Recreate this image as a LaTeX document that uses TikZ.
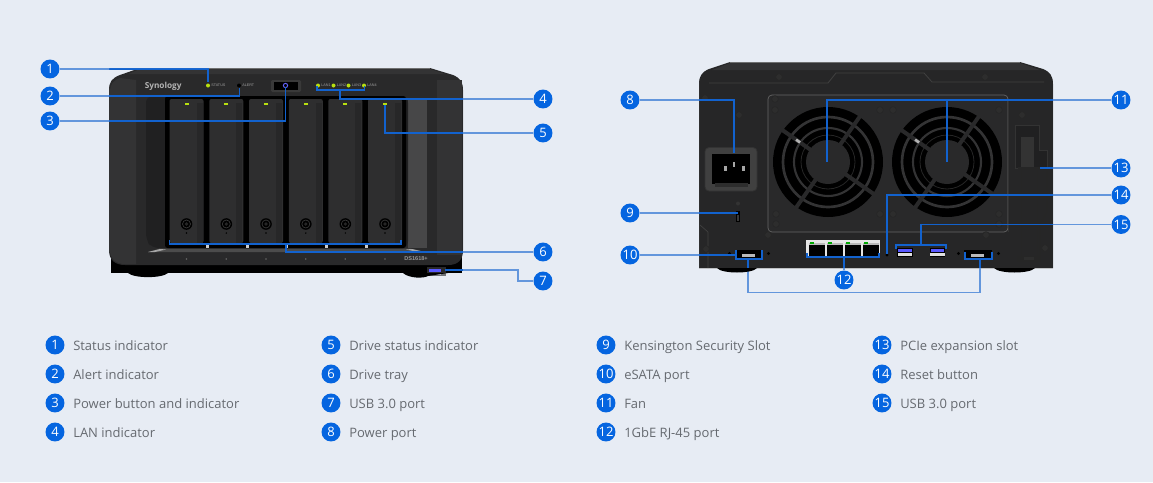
\documentclass[tikz,border=0pt]{standalone}
\usepackage{fontspec}
\setmainfont{Open Sans}
\newfontfamily\tinyfont{Liberation Sans}
\usetikzlibrary{calc}
\definecolor{pagebg}{HTML}{E7ECF4}
\definecolor{badge}{HTML}{0565E0}
\definecolor{wire}{HTML}{1262CE}
\definecolor{legendtext}{HTML}{666A70}
\definecolor{bodyA}{HTML}{29292A}
\definecolor{bodyB}{HTML}{333334}
\definecolor{bodyC}{HTML}{202021}
\definecolor{edgeA}{HTML}{6A6A6A}
\definecolor{trayc}{HTML}{2E2E2F}
\definecolor{trayd}{HTML}{272728}
\definecolor{led}{HTML}{B8E010}
\pgfdeclarelayer{device}
\pgfdeclarelayer{wires}
\pgfdeclarelayer{veil}
\pgfsetlayers{device,wires,veil,main}
\tikzset{
  x=0.75pt,y=-0.75pt,
  numdot/.style={circle,fill=badge,text=white,inner sep=0pt,minimum size=14.2pt,text height=7pt,text depth=0pt,font=\fontsize{9.75}{11}\selectfont},
  wireline/.style={draw=wire,line width=0.9pt,line join=miter},
  legendlabel/.style={anchor=base west,text=legendtext,inner sep=0pt,font=\fontsize{9.75}{11}\selectfont},
  tinylabel/.style={anchor=west,inner sep=0pt,text=gray!75,font=\tinyfont\fontsize{2.8}{3}\selectfont},
  greenled/.style={circle,fill=led,inner sep=0pt,minimum size=3pt},
  screwmark/.style={circle,draw=black!85,fill=gray!35!black,line width=0.5pt,inner sep=0pt,minimum size=5pt},
  blackdot/.style={circle,fill=black,inner sep=0pt,minimum size=2.6pt},
}
\begin{document}
\begin{tikzpicture}
\useasboundingbox (0,0) rectangle (1153,482);
\begin{pgfonlayer}{device}
\fill[pagebg] (0,0) rectangle (1153,482);

% ---------- FRONT UNIT ----------
\fill[black] (111,255) rectangle (462,273);
\fill[bodyA] (140,68) -- (430,68) -- (453,75) .. controls (460,78) and (463,82) .. (463,90)
  -- (463,250) .. controls (463,260) and (458,265) .. (448,265) -- (125,265)
  .. controls (115,265) and (109,260) .. (109,250) -- (109,90) .. controls (109,82) and (112,78) .. (120,75) -- cycle;
\draw[edgeA,line width=0.8pt] (140,68.5) -- (430,68.5);
\fill[bodyB] (140,69) -- (430,69) -- (445,74) -- (128,74) -- cycle;
\fill[bodyB] (110,92) .. controls (110,100) and (110,100) .. (110,250) .. controls (110,258) and (115,264) .. (125,264) -- (136,264) -- (136,80) -- (120,78) .. controls (114,80) and (110,84) .. (110,92) -- cycle;
\fill[bodyB!90!white] (408,98) rectangle (427,248);
\fill[bodyB] (437,80) rectangle (462,255);
% drive bay
\fill[bodyC,rounded corners=5pt] (146,96) -- (408,96) -- (408,248) -- (152,248) -- (146,240) -- cycle;
\fill[gray!60!black] (148,252) -- (160,248.5) -- (410,248.5) -- (425,252) -- cycle;
\fill[gray!70] (148,252) -- (160,249) -- (166,249.5) -- (155,252) -- cycle;
\fill[gray!70] (425,252) -- (412,249) -- (406,249.5) -- (418,252) -- cycle;
\fill[black,rounded corners=2pt] (165,96) rectangle (406,248);
\foreach \xx in {169.5,209.3,249,288.8,328.3,368}{
  \fill[trayc,rounded corners=1.5pt] (\xx,99) rectangle ++(34,144);
  \fill[trayd] ({\xx+27},103) rectangle ({\xx+33},243);
  \fill[black] ({\xx+17},224) circle (5.8);
  \draw[gray!45!black,line width=0.5pt] ({\xx+17},224) circle (4);
  \fill[gray!30!black] ({\xx+17},224) circle (1.8);
  \fill[black] ({\xx+17},233) circle (0.8);
  \fill[led] ({\xx+15},103) rectangle ({\xx+19},105);
  \fill[black!60] ({\xx+17},259) circle (0.9);
}
\foreach \xx in {205.8,245.5,285.3,325,364.6}{
  \fill[gray!40] (\xx,244) rectangle ++(3,4);
}
\node[inner sep=0pt,text=gray!80!white,font=\tinyfont\bfseries\fontsize{4.2}{5}\selectfont] (modelf) at (416,258.5) {DS1618+};
% top panel
\node[anchor=west,inner sep=0pt,text=gray!60!white,font=\bfseries\fontsize{6.2}{8}\selectfont] (logo) at (144.5,86) {Synology};
\node[greenled] (ledstatus) at (208,85.5) {};
\node[tinylabel] (tstatus) at (211,85.5) {STATUS};
\node[blackdot,minimum size=3pt] (ledalert) at (239,85.5) {};
\node[tinylabel] (talert) at (242,85.5) {ALERT};
\fill[gray!45!black,rounded corners=1pt] (271,80) rectangle (301,92);
\fill[black] (274,81.5) rectangle (298,90);
\node[circle,draw=blue!60!white,line width=0.7pt,inner sep=0pt,minimum size=3.2pt] (powerbtn) at (285.5,85.5) {};
\foreach \xx/\ll in {318/1,333.5/2,348.5/3,364/4}{
  \node[greenled] (lan\ll) at (\xx,85.5) {};
  \node[tinylabel] (tlan\ll) at (\xx+3,85.5) {LAN\ll};
}
% front USB
\fill[bodyA] (427,267) rectangle (446,276);
\fill[blue!65!white] (428.5,268.5) rectangle (441,271.5);
\fill[gray!55] (429,272.5) rectangle (441,274.5);

% ---------- REAR UNIT ----------
\fill[bodyA!92!black] (730,62) -- (1020,62) -- (1043,69) .. controls (1050,72) and (1053,76) .. (1053,84)
 -- (1053,268) -- (699,268) -- (699,84) .. controls (699,76) and (702,72) .. (709,69) -- cycle;
\draw[edgeA,line width=0.8pt] (730,62.5) -- (1020,62.5);
\fill[bodyB] (730,63) -- (1020,63) -- (1040,70) -- (712,70) -- cycle;
\draw[gray!70,line width=0.5pt] (699.3,268) -- (1052.7,268);
\draw[black!75,line width=0.6pt] (709,83) -- (828,83) -- (836,73) -- (924,73) -- (932,82) -- (1044,82);
\draw[black!75,line width=0.5pt] (700,225) -- (708,232) -- (708,268);
\draw[black!60,line width=0.5pt,rounded corners=3pt,fill=bodyA] (768,95) rectangle (1008,232);
% fans
\foreach \cx in {828,947}{
  \begin{scope}[shift={(\cx,162)}]
  \fill[black] (0,0) circle (55);
  \draw[bodyB,line width=2pt] (0,0) circle (45);
  \draw[bodyB,line width=1.6pt] (0,0) circle (34);
  \draw[gray!30!black,line width=0.6pt] (0,0) circle (27);
  \draw[bodyA,line width=3pt] (215:57) -- (35:57);
  \draw[bodyA,line width=3pt] (-55:57) -- (125:57);
  \draw[gray!60,line width=2pt] (215:39) -- (215:34);
  \fill[bodyA] (0,0) circle (22);
  \end{scope}
}
% screws
\foreach \sx/\sy in {775/99,775/110,880/110,893/110,999/110,776/214,776/224,880/214,893/214,999/214,999/224,739/115,705/98,706/249,768/235,986/235,1022/115,1045/248,779/77,985/77}{
  \node[screwmark] at (\sx,\sy) {};
}
% power socket
\fill[black!75,rounded corners=3pt] (705,147.5) rectangle (757,191);
\draw[gray!40!black,line width=0.6pt,rounded corners=3pt] (705,147.5) rectangle (757,191);
\fill[black] (712,154) rectangle (750,184);
\fill[gray!70] (724,166) rectangle (726.5,171);
\fill[gray!70] (732.5,162) rectangle (735,167);
\fill[gray!70] (742,166) rectangle (744.5,171);
\fill[gray!35!black] (715,183) rectangle (748,187);
% kensington + lock
\fill[black] (736,211) rectangle (740,222);
\fill[gray!45!black] (737,215) rectangle (739,221);
\fill[gray!40!black] (738,203.5) circle (2);
% eSATA 1
\fill[black] (735,250) rectangle (763,259);
\fill[gray!55] (742,254) rectangle (755,256.5);
\node[blackdot] (dot1) at (729.5,253.5) {};
\node[blackdot] (dot2) at (768.5,253.5) {};
% eSATA 2
\fill[black] (964,250) rectangle (992,259);
\fill[gray!55] (971,254) rectangle (984,256.5);
\node[blackdot] (dot3) at (958.5,253.5) {};
\node[blackdot] (dot4) at (998.5,253.5) {};
% LAN block
\fill[gray!20] (806,240) rectangle (880,258);
\foreach \lx in {809,827,845,863}{
  \fill[black] (\lx,245) rectangle ++(15.5,10.5);
  \fill[gray!55] ({\lx},242.5) rectangle ++(15.5,2.5);
  \fill[green!65!black] ({\lx+1},241.5) rectangle ++(4,2);
}
% USB ports rear
\foreach \ux in {897,929.5}{
  \fill[black] (\ux,247.5) rectangle ++(15.5,9);
  \fill[blue!65!white] (\ux+1,248.5) rectangle ++(13.5,3.5);
  \fill[gray!25] (\ux+0.5,253) rectangle ++(14.5,2.8);
}
% reset
\node[blackdot] (resetbtn) at (887,255) {};
% expansion slot
\draw[black!80,line width=0.5pt] (1008,100) -- (1008,232);
\fill[bodyC] (1015,125.5) -- (1039,125.5) -- (1039,150) -- (1047,150) -- (1047,168) -- (1015,168) -- cycle;
\draw[gray!40!black,line width=0.5pt] (1015,125.5) -- (1039,125.5) -- (1039,150) -- (1047,150) -- (1047,168) -- (1015,168) -- cycle;
\fill[gray!40!black] (1021,137) rectangle (1034,167);
\fill[black!85] (1018,167) rectangle (1047,170);
\draw[black!85,line width=0.6pt] (1021,170) -- (1021,256);
\draw[black!85,line width=0.6pt] (1037,170) -- (1037,256);
\draw[gray!30!black,line width=0.5pt] (1047,170) -- (1047,212) -- (1040,224) -- (1040,256);
\fill[black!85] (1017,256) rectangle (1041,262);
\fill[gray!35!black] (1024,256.5) rectangle (1034,260);
\end{pgfonlayer}

% ---------- TARGET POINTS ----------
\coordinate (t1) at (208,82);
\coordinate (t2) at (239.5,87.5);
\coordinate (t3) at (285.5,87);
\coordinate (brk4l) at (317,86);
\coordinate (brk4r) at (364.5,86);
\coordinate (brk4m) at (340,90);
\coordinate (t5) at (385,105);
\coordinate (brk6l) at (169.5,240);
\coordinate (brk6r) at (401,240);
\coordinate (brk6m) at (286,244);
\coordinate (t7a) at (445,270);
\coordinate (t7b) at (518,270);
\coordinate (t8) at (734,153);
\coordinate (t9) at (738,213);
\coordinate (e1l) at (736,250);
\coordinate (e1r) at (762,250);
\coordinate (e1m) at (748,259);
\coordinate (e2l) at (965,252);
\coordinate (e2r) at (992,252);
\coordinate (e2m) at (980,259);
\coordinate (fana) at (827,161.5);
\coordinate (fanb) at (947,161.5);
\coordinate (t13) at (1040,168);
\coordinate (t14) at (887,254);
\coordinate (brk15l) at (896,249);
\coordinate (brk15r) at (946,249);
\coordinate (brk15m) at (921,245);
\coordinate (brk12l) at (807,253);
\coordinate (brk12r) at (879,253);
\coordinate (brk12m) at (844,257);

% ---------- BADGES ----------
\foreach \nn/\xx/\yy in {1/50/69,2/50/96,3/50/121,4/543/99,5/543/133,6/543/252,7/543/281,
  8/630/100,9/630/213,10/630/255,11/1121/100,12/844/280,13/1121/168,14/1121/195,15/1121/224.5}{
  \node[numdot] (n\nn) at (\xx,\yy) {\nn};
}
% feet lie outside the veil
\fill[black] (128,273) .. controls (134,278.5) and (162,278.5) .. (168,273) -- cycle;
\fill[black] (403,273) .. controls (409,278.5) and (424,278.5) .. (428,276) -- (448,273) -- cycle;
\fill[black] (717,268) .. controls (722,274) and (752,274) .. (757,268) -- cycle;
\fill[black] (994,268) .. controls (999,274) and (1030,274) .. (1035,268) -- cycle;
% ---------- CONNECTORS ----------
\begin{pgfonlayer}{wires}
\draw[wireline] (n1) -| (t1);
\draw[wireline] (n2) -| (t2);
\draw[wireline] (n3) -| (t3);
\draw[wireline] (brk4l) |- (brk4m) -| (brk4r);
\draw[wireline] (n4) -| (brk4m);
\draw[wireline] (n5) -| (t5);
\draw[wireline] (brk6l) |- (brk6m) -| (brk6r);
\draw[wireline] (n6) -| (brk6m);
\draw[wireline] (t7a) -- (t7b) |- (n7);
\draw[wireline] (n8) -| (t8);
\draw[wireline] (n9) -- (t9);
\draw[wireline] (e1l) |- (e1m) -| (e1r);
\draw[wireline] (n10) -- (n10 -| e1l);
\draw[wireline] (e2l) |- (e2m) -| (e2r);
\draw[wireline] (e1m) -- ++(0,33.5) -| (e2m);
\draw[wireline] (n11) -| (fana);
\draw[wireline] (fanb) -- (fanb |- n11);
\draw[wireline] (brk12l) |- (brk12m) -| (brk12r);
\draw[wireline] (n12) -- (brk12m);
\draw[wireline] (n13) -- (t13);
\draw[wireline] (n14) -| (t14);
\draw[wireline] (brk15l) |- (brk15m) -| (brk15r);
\draw[wireline] (n15) -| (brk15m);
\end{pgfonlayer}
% pale veil: wires look lighter outside the two units
\begin{pgfonlayer}{veil}
\fill[pagebg,opacity=0.38,even odd rule] (0,0) rectangle (1153,482)
  (109,68) rectangle (463,273) (699,62) rectangle (1053,268);
\end{pgfonlayer}

% ---------- LEGEND ----------
\foreach \nn/\xx/\yy/\tt in {
  1/55/345/Status indicator,
  2/55/374/Alert indicator,
  3/55/403/Power button and indicator,
  4/55/432/LAN indicator,
  5/331/345/Drive status indicator,
  6/331/374/Drive tray,
  7/331/403/USB 3.0 port,
  8/331/432/Power port,
  9/606/345/Kensington Security Slot,
  10/606/374/eSATA port,
  11/606/403/Fan,
  12/606/432/1GbE RJ-45 port,
  13/882/345/PCIe expansion slot,
  14/882/374/Reset button,
  15/882/403/USB 3.0 port}{
  \node[numdot] (leg\nn) at (\xx,\yy) {\nn};
  \node[legendlabel] (lab\nn) at (\xx+18,\yy+5.2) {\tt};
}
\end{tikzpicture}
\end{document}
